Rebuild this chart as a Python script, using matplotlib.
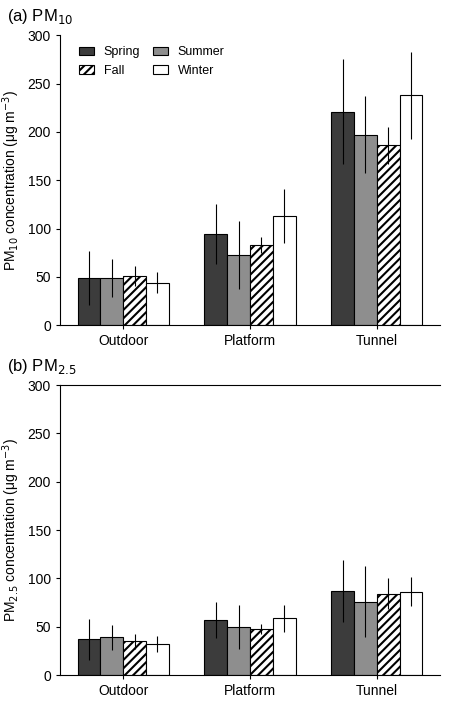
import numpy as np
import matplotlib.pyplot as plt

sites = ["Outdoor", "Platform", "Tunnel"]
seasons = ["Spring", "Summer", "Fall", "Winter"]

pm10_mean = {"Spring": [49, 94, 221], "Summer": [49, 73, 197],
             "Fall": [51, 83, 186], "Winter": [44, 113, 238]}
pm10_err = {"Spring": [28, 31, 54], "Summer": [20, 35, 40],
            "Fall": [10, 8, 19], "Winter": [11, 28, 45]}
pm25_mean = {"Spring": [37, 57, 87], "Summer": [39, 50, 76],
             "Fall": [35, 48, 84], "Winter": [32, 59, 86]}
pm25_err = {"Spring": [21, 19, 32], "Summer": [13, 23, 37],
            "Fall": [8, 5, 16], "Winter": [8, 14, 15]}

styles = {"Spring": dict(color="#3c3c3c"),
          "Summer": dict(color="#8e8e8e"),
          "Fall": dict(color="white", hatch="////"),
          "Winter": dict(color="white")}

plt.rcParams["font.family"] = "Liberation Sans"
plt.rcParams["hatch.linewidth"] = 1.5
fig = plt.figure(figsize=(4.5, 7.04), dpi=100)
ax1 = fig.add_axes([0.133, 0.538, 0.845, 0.412])
ax2 = fig.add_axes([0.133, 0.041, 0.845, 0.412])

x = np.arange(len(sites))
w = 0.18
for ax, means, errs, lab, title in [
        (ax1, pm10_mean, pm10_err, "PM$_{10}$ concentration (\u03bcg m$^{-3}$)", "(a) PM$_{10}$"),
        (ax2, pm25_mean, pm25_err, "PM$_{2.5}$ concentration (\u03bcg m$^{-3}$)", "(b) PM$_{2.5}$")]:
    for i, s in enumerate(seasons):
        ax.bar(x + (i - 1.5) * w, means[s], w, yerr=errs[s], edgecolor="black",
               linewidth=0.8, error_kw=dict(elinewidth=0.8, capsize=0, ecolor="black"),
               label=s, **styles[s])
    ax.set_xlim(-0.5, 2.5)
    ax.set_ylim(0, 300)
    ax.set_yticks(range(0, 301, 50))
    ax.set_xticks(x)
    ax.set_xticklabels(sites, fontsize=10)
    ax.tick_params(labelsize=10, length=3)
    ax.set_ylabel(lab, fontsize=10)
    ax.spines["right"].set_visible(False)
    ax.text(-0.14, 1.03, title, transform=ax.transAxes, fontsize=12, ha="left", va="bottom")
ax1.spines["top"].set_visible(False)
handles, labels = ax1.get_legend_handles_labels()
order = [0, 2, 1, 3]
ax1.legend([handles[k] for k in order], [labels[k] for k in order],
           loc="upper left", ncol=2, frameon=False, fontsize=9,
           handlelength=1.2, columnspacing=1.0, bbox_to_anchor=(0.02, 1.0))

fig.savefig("out.png")
